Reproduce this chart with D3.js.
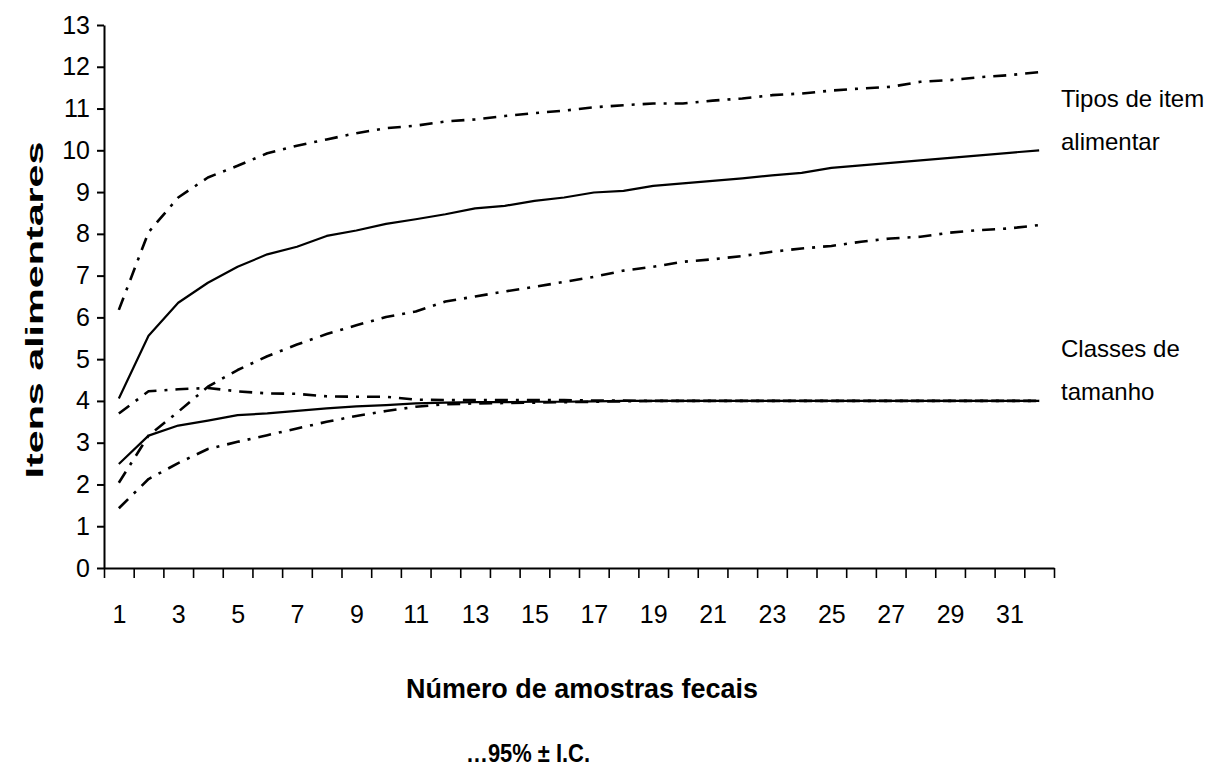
<!DOCTYPE html>
<html>
<head>
<meta charset="utf-8">
<script src="https://cdn.jsdelivr.net/npm/d3@7"></script>
<style>
  html, body { margin: 0; padding: 0; background: #fff; }
  svg { display: block; font-family: "Liberation Sans", Arial, sans-serif; }
</style>
</head>
<body>
<svg id="chart" width="1221" height="770"></svg>
<script>
// ---- data ----
const categories = [1,2,3,4,5,6,7,8,9,10,11,12,13,14,15,16,17,18,19,20,21,22,23,24,25,26,27,28,29,30,31,32];
const xTickLabels = [1,3,5,7,9,11,13,15,17,19,21,23,25,27,29,31];
const yTickLabels = [0,1,2,3,4,5,6,7,8,9,10,11,12,13];

const tiposMean  = [4.06,5.56,6.35,6.83,7.21,7.51,7.69,7.95,8.08,8.24,8.35,8.47,8.61,8.67,8.79,8.87,8.99,9.03,9.15,9.21,9.27,9.33,9.40,9.46,9.58,9.64,9.70,9.76,9.82,9.88,9.94,10.00];
const tiposUpper = [6.18,8.04,8.87,9.35,9.63,9.93,10.11,10.26,10.41,10.53,10.59,10.69,10.74,10.82,10.89,10.95,11.03,11.08,11.12,11.12,11.19,11.24,11.32,11.36,11.43,11.48,11.52,11.64,11.68,11.75,11.80,11.87];
const tiposLower = [2.04,3.17,3.74,4.34,4.74,5.07,5.35,5.60,5.81,6.01,6.14,6.38,6.50,6.62,6.73,6.85,6.97,7.12,7.21,7.33,7.39,7.47,7.57,7.65,7.71,7.81,7.89,7.93,8.03,8.09,8.13,8.21];

const classesMean  = [2.49,3.17,3.41,3.53,3.66,3.70,3.76,3.82,3.87,3.90,3.94,3.96,3.97,3.97,3.98,3.98,3.99,4.00,4.00,4.00,4.00,4.00,4.00,4.00,4.00,4.00,4.00,4.00,4.00,4.00,4.00,4.00];
const classesUpper = [3.70,4.23,4.28,4.31,4.23,4.18,4.17,4.11,4.10,4.10,4.03,4.02,4.02,4.02,4.02,4.02,4.01,4.01,4.00,4.00,4.00,4.00,4.00,4.00,4.00,4.00,4.00,4.00,4.00,4.00,4.00,4.00];
const classesLower = [1.43,2.13,2.51,2.85,3.02,3.18,3.34,3.50,3.64,3.76,3.86,3.92,3.94,3.95,3.96,3.97,3.98,3.99,4.00,4.00,4.00,4.00,4.00,4.00,4.00,4.00,4.00,4.00,4.00,4.00,4.00,4.00];

const seriesLabels = [["Tipos de item", "alimentar"], ["Classes de", "tamanho"]];
const xTitle = "Número de amostras fecais";
const yTitle = "Itens alimentares";
const note = "…95% ± I.C.";

// ---- layout ----
const svg = d3.select("#chart");
const plotLeft = 104, plotRight = 1054, plotTop = 25, plotBottom = 568;

const x = d3.scaleLinear().domain([0.5, categories.length + 0.5]).range([plotLeft, plotRight]);
const y = d3.scaleLinear().domain([0, 13]).range([plotBottom, plotTop]);

const g = svg.append("g");

// x axis: boundary ticks
const boundaries = d3.range(0, categories.length + 1).map(i => i + 0.5);
const xAxis = g.append("g")
  .attr("transform", `translate(0,${plotBottom})`)
  .call(d3.axisBottom(x).tickValues(boundaries).tickFormat("").tickSize(10).tickSizeOuter(0));
xAxis.select(".domain").attr("stroke", "#000").attr("stroke-width", 2);
xAxis.selectAll(".tick line").attr("stroke", "#000").attr("stroke-width", 1.6);

// x labels
const xLab = g.append("g")
  .attr("transform", `translate(0,${plotBottom})`)
  .call(d3.axisBottom(x).tickValues(xTickLabels).tickFormat(d3.format("d")).tickSize(0).tickPadding(37));
xLab.select(".domain").remove();
xLab.selectAll("text").attr("font-size", 25).attr("font-family", "Liberation Sans, Arial, sans-serif").attr("fill", "#000");

// y axis
const yAxis = g.append("g")
  .attr("transform", `translate(${plotLeft},0)`)
  .call(d3.axisLeft(y).tickValues(yTickLabels).tickFormat(d3.format("d")).tickSize(7).tickSizeOuter(0).tickPadding(7));
yAxis.select(".domain").attr("stroke", "#000").attr("stroke-width", 2);
yAxis.selectAll(".tick line").attr("stroke", "#000").attr("stroke-width", 2);
yAxis.selectAll("text").attr("font-size", 25).attr("font-family", "Liberation Sans, Arial, sans-serif").attr("fill", "#000");

// lines
const line = d3.line().x((d, i) => x(categories[i])).y(d => y(d));
const dashDot = "13,8,3,8";
const series = [
  { values: tiposUpper, dash: dashDot, w: 2.6 },
  { values: tiposLower, dash: dashDot, w: 2.6 },
  { values: classesUpper, dash: dashDot, w: 2.6 },
  { values: classesLower, dash: dashDot, w: 2.6 },
  { values: tiposMean, dash: null, w: 2.2 },
  { values: classesMean, dash: null, w: 2.2 }
];
g.selectAll("path.series").data(series).join("path")
  .attr("class", "series")
  .attr("d", d => line(d.values))
  .attr("fill", "none")
  .attr("stroke", "#000")
  .attr("stroke-width", d => d.w)
  .attr("stroke-dasharray", d => d.dash)
  .attr("stroke-linejoin", "round");

// series labels
const labelX = 1061;
const lab1 = g.append("text").attr("font-size", 24).attr("fill", "#000");
lab1.append("tspan").attr("x", labelX).attr("y", 107).text(seriesLabels[0][0]);
lab1.append("tspan").attr("x", labelX).attr("y", 150).text(seriesLabels[0][1]);
const lab2 = g.append("text").attr("font-size", 24).attr("fill", "#000");
lab2.append("tspan").attr("x", labelX).attr("y", 357).text(seriesLabels[1][0]);
lab2.append("tspan").attr("x", labelX).attr("y", 400).text(seriesLabels[1][1]);

// axis titles
g.append("text")
  .attr("x", 406).attr("y", 698)
  .attr("font-size", 27).attr("font-weight", "bold").attr("fill", "#000")
  .attr("textLength", 352).attr("lengthAdjust", "spacingAndGlyphs")
  .text(xTitle);

g.append("text")
  .attr("x", 466).attr("y", 762)
  .attr("font-size", 26).attr("font-weight", "bold").attr("fill", "#000")
  .attr("textLength", 124).attr("lengthAdjust", "spacingAndGlyphs")
  .text(note);

g.append("text")
  .attr("transform", "translate(43,310) rotate(-90)")
  .attr("text-anchor", "middle")
  .attr("font-size", 24).attr("font-weight", "bold").attr("fill", "#000")
  .attr("textLength", 337).attr("lengthAdjust", "spacingAndGlyphs")
  .text(yTitle);
</script>
</body>
</html>
